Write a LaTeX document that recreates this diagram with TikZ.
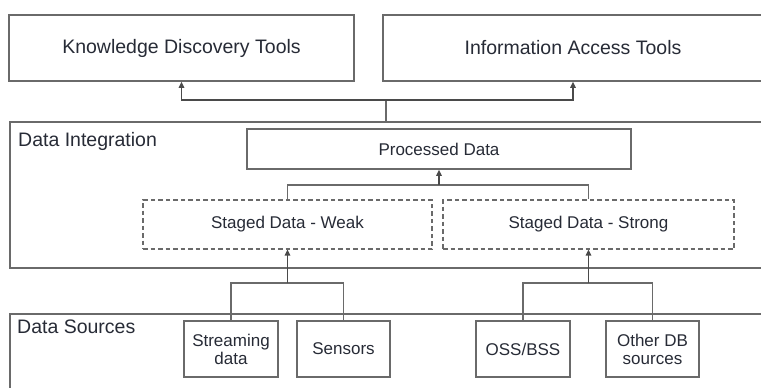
\documentclass[tikz,border=0pt]{standalone}
\usepackage{fontspec}
\setmainfont{Liberation Sans}
\usetikzlibrary{arrows.meta}
\definecolor{linegray}{HTML}{6A6A6A}
\definecolor{txtcol}{HTML}{272B36}
\tikzset{
  box/.style={draw=linegray, line width=1.5pt, inner sep=0pt, text=txtcol},
  bigtxt/.style={font=\fontsize{19.5}{22}\selectfont},
  smalltxt/.style={font=\fontsize{17}{18}\selectfont},
  dbox/.style={box, dash pattern=on 4.5pt off 3pt, line width=1.2pt},
  conn/.style={draw=linegray, line width=1.5pt},
  arr/.style={conn, -{Triangle[length=6pt,width=5.5pt]}, color=linegray!70!black}
}
\begin{document}
\begin{tikzpicture}[x=1pt,y=-1pt]
\useasboundingbox (0,0) rectangle (761,388);
\clip (0,0) rectangle (761,388);
\fill[white] (0,0) rectangle (761,388);
% top tools
\node[box, bigtxt, minimum width=345, minimum height=66] (kdt) at (181.5,48) {Knowledge Discovery Tools};
\node[box, bigtxt, minimum width=380, minimum height=66] (iat) at (573,48) {Information Access Tools};
% data integration layer
\node[box, anchor=north west, minimum width=754, minimum height=146] (di) at (9,121) {};
\node[anchor=base west, bigtxt, text=txtcol, inner sep=0pt] (dilab) at (18,146) {Data Integration};
\node[box, smalltxt, minimum width=384, minimum height=40] (proc) at (439,149) {Processed Data};
\node[dbox, smalltxt, minimum width=289, minimum height=49] (weak) at (287.5,224.5) {Staged Data - Weak};
\node[dbox, smalltxt, minimum width=291, minimum height=49] (strong) at (588.5,224.5) {Staged Data - Strong};
% data sources layer
\node[box, anchor=north west, minimum width=754, minimum height=100] (ds) at (9,313) {};
\node[anchor=base west, bigtxt, text=txtcol, inner sep=0pt] (dslab) at (17,333) {Data Sources};
\node[box, smalltxt, minimum width=94, minimum height=56, align=center] (stream) at (231,349) {Streaming\\data};
\node[box, smalltxt, minimum width=93, minimum height=56] (sens) at (343.5,349) {Sensors};
\node[box, smalltxt, minimum width=94, minimum height=56] (oss) at (523,349) {OSS/BSS};
\node[box, smalltxt, minimum width=93, minimum height=56, align=center] (odb) at (652.5,349) {Other DB\\sources};
% junctions
\coordinate (j1) at (287.5,283);
\coordinate (j2) at (588.5,283);
\coordinate (j3) at (439,185);
\coordinate (j4) at (386,100);
\coordinate (ditop) at (386,121);
% connectors
\draw[conn] (stream.north) |- (j1) -| (sens.north);
\draw[arr] (j1) -- (weak.south);
\draw[conn] (oss.north) |- (j2) -| (odb.north);
\draw[arr] (j2) -- (strong.south);
\draw[conn] (weak.north) |- (j3) -| (strong.north);
\draw[arr] (j3) -- (proc.south);
\draw[conn] (ditop) -- (j4);
\draw[arr] (j4) -| (kdt.south);
\draw[arr] (j4) -| (iat.south);
\end{tikzpicture}
\end{document}
